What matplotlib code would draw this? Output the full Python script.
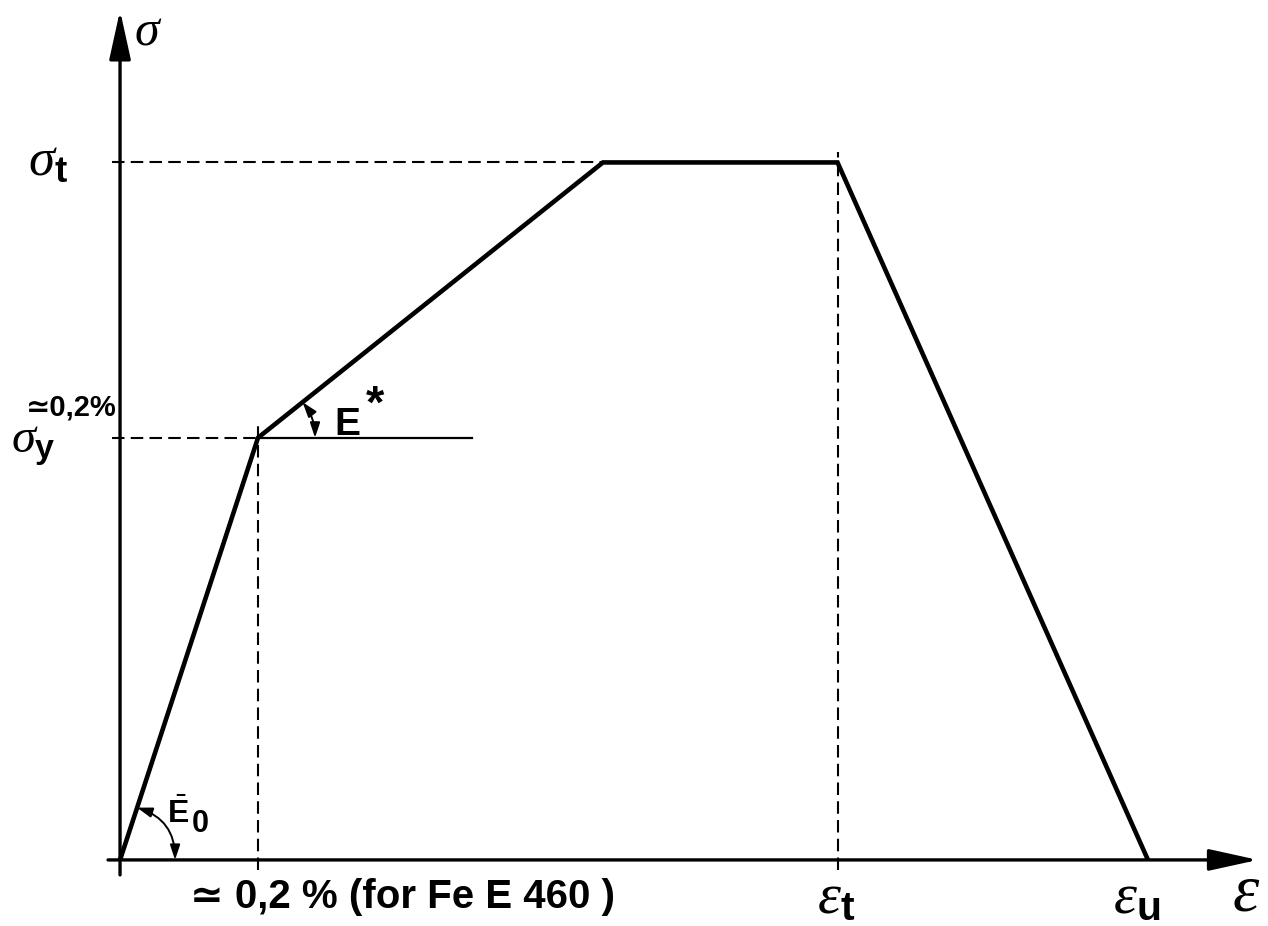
import numpy as np
import matplotlib.pyplot as plt
from matplotlib.patches import FancyArrowPatch

# idealised stress-strain curve of reinforcing steel (strain in %, stress in MPa)
eps = [0.0, 0.2, 0.7, 1.04, 1.49]
sig = [0.0, 460.0, 760.0, 760.0, 0.0]

eps_y, eps_h, eps_t, eps_u = eps[1], eps[2], eps[3], eps[4]
sig_y, sig_t = sig[1], sig[2]

plt.rcParams['mathtext.fontset'] = 'custom'
plt.rcParams['mathtext.it'] = 'Liberation Serif:italic'
plt.rcParams['mathtext.rm'] = 'Liberation Sans'
plt.rcParams['mathtext.bf'] = 'Liberation Sans:bold'
plt.rcParams['mathtext.sf'] = 'Liberation Sans'

fig = plt.figure(figsize=(12.68, 9.26), dpi=100)
ax = fig.add_axes([0, 0, 1, 1])
ax.set_xlim(-0.174, 1.664)
ax.set_ylim(-72, 937)
ax.axis('off')

# pixel -> data helpers
sx = (1.664 + 0.174) / 1268
sy = (937 + 72) / 926


def dx(p):
    return p * sx


def dy(p):
    return p * sy


# axes with arrows
arrow = dict(arrowstyle='-|>,head_length=1.5,head_width=0.33', lw=2.4,
             color='k', shrinkA=0, shrinkB=0, mutation_scale=20)
ax.annotate('', xy=(eps_u + dx(110), 0), xytext=(-dx(12), 0), arrowprops=arrow)
ax.annotate('', xy=(0, sig_t + dy(152)), xytext=(0, -dy(15)), arrowprops=arrow)

# guide lines
dash = dict(color='k', lw=1.5, linestyle=(0, (6, 3)))
ax.plot([-dx(8), eps_t], [sig_t, sig_t], **dash)
ax.plot([-dx(8), eps_y], [sig_y, sig_y], **dash)
ax.plot([eps_y, eps_y], [-dy(10), sig_y + dy(12)], **dash)
ax.plot([eps_t, eps_t], [-dy(10), sig_t + dy(10)], **dash)
ax.plot([eps_y, eps_y + dx(214)], [sig_y, sig_y], color='k', lw=1.6)

# the curve
ax.plot(eps, sig, color='k', lw=3.3, solid_joinstyle='miter',
        solid_capstyle='butt')


# angle arcs for the two moduli
def angle_arc(x0, y0, x1, y1, r):
    p0 = ax.transData.transform((x0, y0))
    p1 = ax.transData.transform((x1, y1))
    th = np.arctan2(p1[1] - p0[1], p1[0] - p0[0])
    a = ax.transData.inverted().transform(p0 + [r, 0])
    b = ax.transData.inverted().transform(p0 + [r * np.cos(th), r * np.sin(th)])
    arc = FancyArrowPatch(a, b, connectionstyle=f'arc3,rad={np.tan(th / 2) / 2:.3f}',
                          arrowstyle='<|-|>,head_length=0.45,head_width=0.15',
                          mutation_scale=20, lw=1.4, color='k',
                          shrinkA=0, shrinkB=0)
    ax.add_patch(arc)


angle_arc(0, 0, eps_y, sig_y, 55)
angle_arc(eps_y, sig_y, eps_h, sig_t, 57)

# labels
sans = ['Liberation Sans', 'DejaVu Sans']
ax.text(dx(14), sig_t + dy(132), r'$\sigma$', fontsize=36, ha='left', va='center')
ax.text(-dx(52), sig_t + dy(3), r'$\sigma_{\mathbf{t}}$', fontsize=38,
        ha='right', va='center')
ax.text(-dx(64), sig_y - dy(6), r'$\sigma_{\mathbf{y}}$', fontsize=35,
        ha='right', va='center')
ax.text(-dx(3), sig_y + dy(30), '\u22430,2%', fontsize=21, fontweight='bold',
        family=sans, ha='right', va='center')
ax.text(eps_y + dx(76), sig_y + dy(13), 'E', fontsize=28, fontweight='bold',
        family=sans, ha='left', va='center')
ax.text(eps_y + dx(108), sig_y + dy(32), '*', fontsize=34, fontweight='bold',
        family=sans, ha='left', va='center')
ax.text(dx(47), dy(46), r'$\bar{\mathbf{E}}$', fontsize=23, ha='left', va='center')
ax.text(dx(72), dy(36), '0', fontsize=22, fontweight='bold', family=sans,
        ha='left', va='center')
ax.text(eps_y - dx(68), -dy(37), '\u2243 0,2 % (for Fe E 460 )', fontsize=29,
        fontweight='bold', family=sans, ha='left', va='center')
ax.text(eps_t - dx(1), -dy(37), r'$\varepsilon_{\mathbf{t}}$', fontsize=42,
        ha='center', va='center')
ax.text(eps_u - dx(11), -dy(37), r'$\varepsilon_{\mathbf{u}}$', fontsize=42,
        ha='center', va='center')
ax.text(eps_u + dx(98), -dy(32), r'$\varepsilon$', fontsize=48,
        ha='center', va='center')

fig.savefig('out.png', dpi=100)
